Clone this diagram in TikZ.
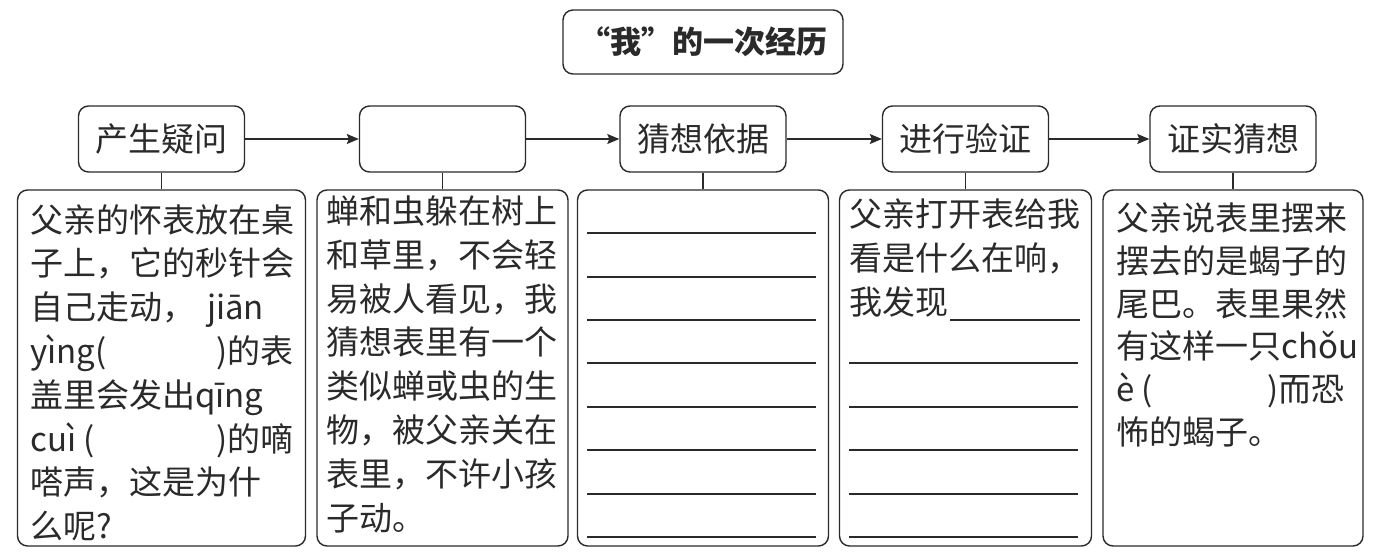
\documentclass[tikz,border=0pt]{standalone}
\usepackage{fontspec}
\setmainfont{Noto Sans CJK SC}
\usetikzlibrary{arrows.meta}
\definecolor{ink}{HTML}{2A2A2A}
\tikzset{
  box/.style={draw=ink, line width=1.4pt, rounded corners=10pt, inner sep=0pt, text=ink},
  topbox/.style={box, minimum width=166pt, minimum height=66pt, font=\fontsize{33}{38}\selectfont},
  bigbox/.style={box, minimum height=356pt},
  txt/.style={inner sep=0pt, anchor=base west, text=ink, font=\fontsize{33}{38}\selectfont},
  flow/.style={draw=ink, line width=1.3pt, -{Stealth[length=12pt,width=10pt,inset=2pt]}},
  stub/.style={draw=ink, line width=1.3pt},
  blank/.style={draw=ink, line width=1.7pt},
}
\begin{document}
\begin{tikzpicture}[x=1pt,y=-1pt]
\fill[white] (0,0) rectangle (1376,555);
\useasboundingbox (0,0) rectangle (1376,555);

% title
\node[box, minimum width=280pt, minimum height=64pt, font=\bfseries\fontsize{31}{36}\selectfont] (title) at (703,42) {“我”的一次经历};

% top row
\node[topbox] (t1) at (161.5,139) {产生疑问};
\node[topbox] (t2) at (442.5,139) {};
\node[topbox] (t3) at (703,139) {猜想依据};
\node[topbox] (t4) at (965.5,139) {进行验证};
\node[topbox] (t5) at (1233,139) {证实猜想};

\draw[flow] (t1) -- (t2);
\draw[flow] (t2) -- (t3);
\draw[flow] (t3) -- (t4);
\draw[flow] (t4) -- (t5);

% bottom row
\node[bigbox, minimum width=288pt] (b1) at (161.5,368) {};
\node[bigbox, minimum width=251pt] (b2) at (442.5,368) {};
\node[bigbox, minimum width=251pt] (b3) at (703,368) {};
\node[bigbox, minimum width=252pt] (b4) at (965.5,368) {};
\node[bigbox, minimum width=260pt] (b5) at (1233,368) {};

\draw[stub] (t1.south) -- (b1.north);
\draw[stub] (t2.south) -- (b2.north);
\draw[stub] (t3.south) -- (b3.north);
\draw[stub] (t4.south) -- (b4.north);
\draw[stub] (t5.south) -- (b5.north);

% box 1 text
\foreach \s [count=\i] in {父亲的怀表放在桌,子上，它的秒针会,{自己走动，\hspace{12pt}jiān},{\hbox to 263pt{yìng(\hfill)的表}},盖里会发出qīng,{\hbox to 263pt{cuì (\hfill)的嘀}},嗒声，这是为什,么呢?}
  \node[txt] (a\i) at (30,{232+(\i-1)*43.8}) {\s};

% box 2 text
\foreach \s [count=\i] in {蝉和虫躲在树上,和草里，不会轻,易被人看见，我,猜想表里有一个,类似蝉或虫的生,物，被父亲关在,表里，不许小孩,子动。}
  \node[txt] (c\i) at (326,{223.5+(\i-1)*43.8}) {\s};

% box 3 blanks
\foreach \y in {233,277,320,363,407,450,494,537}
  \draw[blank] (587,\y) -- (816,\y);

% box 4 text
\foreach \s [count=\i] in {父亲打开表给我,看是什么在响，,我发现}
  \node[txt] (d\i) at (849,{226.5+(\i-1)*44}) {\s};
\draw[blank] (950,320) -- (1080,320);
\foreach \y in {363,407,450,494,537}
  \draw[blank] (849,\y) -- (1078,\y);

% box 5 text
\foreach \s [count=\i] in {父亲说表里摆来,摆去的是蝎子的,尾巴。表里果然,有这样一只chǒu,{\hbox to 228pt{è (\hfill)而恐}},怖的蝎子。}
  \node[txt] (e\i) at (1116,{230.5+(\i-1)*42.8}) {\s};
\end{tikzpicture}
\end{document}
